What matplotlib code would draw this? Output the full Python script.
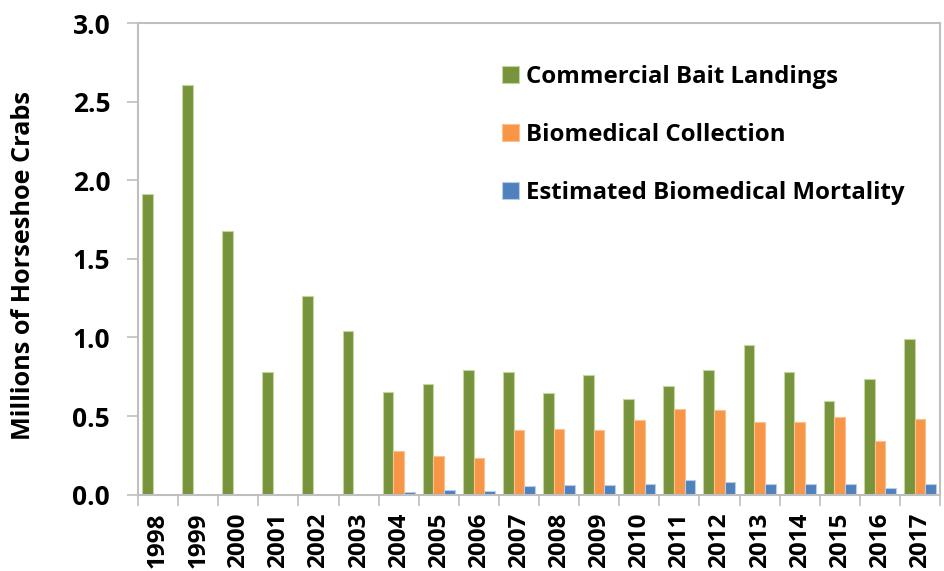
import matplotlib
matplotlib.use("Agg")
import matplotlib.pyplot as plt
import numpy as np

years = [str(y) for y in range(1998, 2018)]
bait = [1.915, 2.604, 1.676, 0.781, 1.264, 1.042, 0.652, 0.705, 0.792, 0.781,
        0.648, 0.760, 0.607, 0.690, 0.792, 0.949, 0.783, 0.593, 0.737, 0.991]
collection = [0, 0, 0, 0, 0, 0, 0.279, 0.245, 0.234, 0.412,
              0.419, 0.410, 0.478, 0.542, 0.538, 0.461, 0.463, 0.491, 0.340, 0.480]
mortality = [0, 0, 0, 0, 0, 0, 0.020, 0.029, 0.024, 0.054,
             0.062, 0.060, 0.065, 0.092, 0.078, 0.067, 0.067, 0.071, 0.043, 0.069]
series_names = ["Commercial Bait Landings", "Biomedical Collection",
                "Estimated Biomedical Mortality"]
yticks = [0.0, 0.5, 1.0, 1.5, 2.0, 2.5, 3.0]

colors = ["#77933C", "#F79646", "#4F81BD"]
edge = ["#C3D69B", "#FAC090", "#B9CDE5"]

plt.rcParams['font.family'] = ['Open Sans', 'DejaVu Sans']
plt.rcParams['font.weight'] = 'bold'

fig = plt.figure(figsize=(9.44, 5.71), dpi=100)
ax = fig.add_axes([138/944, (571-494.7)/571, (940-138)/944, (494.7-23)/571])

x = np.arange(len(years))
w = 0.8/3
for i, (vals, c, ec, name) in enumerate(zip([bait, collection, mortality], colors, edge, series_names)):
    ax.bar(x + (i-1)*w, vals, width=w, color=c, edgecolor=ec, linewidth=0.8,
           label=name, zorder=2)

ax.set_xlim(-0.5, len(years)-0.5)
ax.set_ylim(0, 3.0)
ax.set_yticks(yticks)
ax.set_yticklabels([f"{v:.1f}" for v in yticks], fontsize=19, fontweight='bold')
ax.set_xticks(x)
ax.set_xticklabels(years, rotation=90, fontsize=17.5, fontweight='bold', va='top')
ax.set_xticks(np.arange(-0.5, len(years), 1), minor=True)
ax.tick_params(axis='x', which='major', length=0, pad=13)
ax.tick_params(axis='x', which='minor', length=8, color='#BFBFBF', width=1.2)
ax.tick_params(axis='y', length=8, color='#BFBFBF', width=1.2, pad=12)
for s in ax.spines.values():
    s.set_color('#BFBFBF')
    s.set_linewidth(1.5)

fig.text(23.5/944, 1 - 266/571, "Millions of Horseshoe Crabs", rotation=90,
         ha='center', va='center', fontsize=18.2, fontweight='bold')

leg = ax.legend(loc='upper left', bbox_to_anchor=(0.439, 0.937), frameon=False,
                borderpad=0, handlelength=0.71, handleheight=0.71, handletextpad=0.3,
                labelspacing=1.42, prop={'weight': 'bold', 'size': 17.3})

fig.savefig("out.png", dpi=100)
